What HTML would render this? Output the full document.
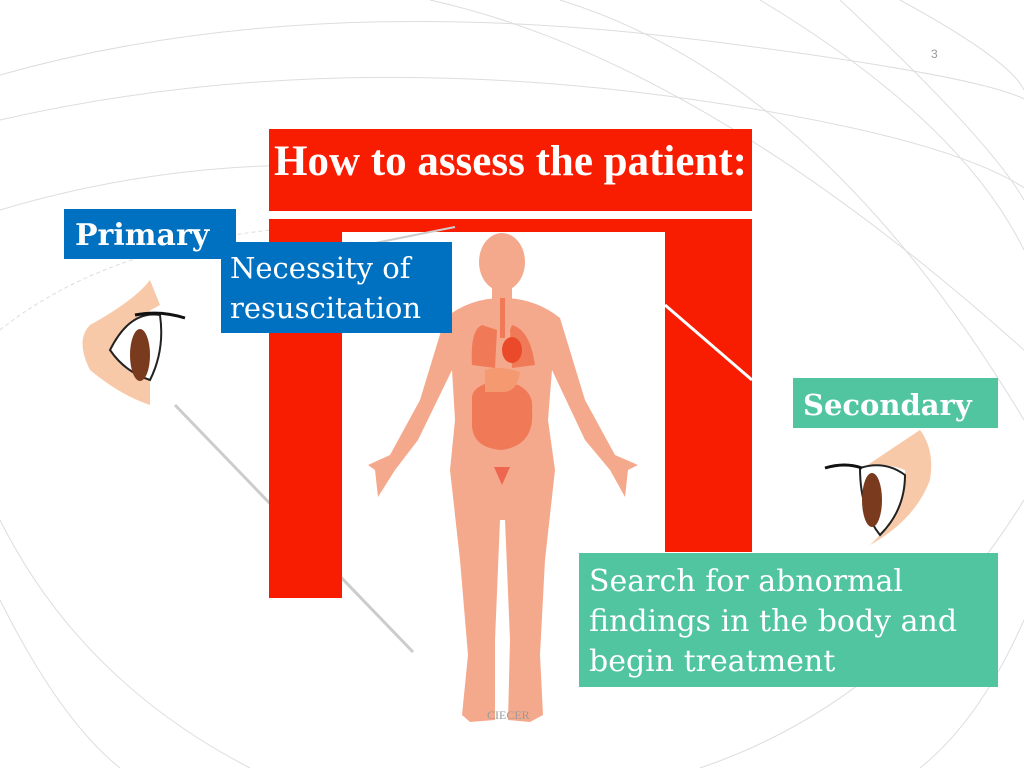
<!DOCTYPE html>
<html><head><meta charset="utf-8"><style>
body{margin:0;width:1024px;height:768px;overflow:hidden;background:#fff;position:relative;font-family:"DejaVu Serif","Liberation Serif",serif}
.b{position:absolute;color:#fff;white-space:nowrap}
</style></head><body>
<svg width="1024" height="768" style="position:absolute;left:0;top:0">
<g fill="none" stroke="#ddd" stroke-width="1">
<path d="M0 75 Q300 -10 700 40 T1024 120"/>
<path d="M0 120 Q350 40 760 110 T1024 300"/>
<path d="M0 210 Q200 150 420 170"/>
<path d="M0 330 Q100 250 270 230" stroke-dasharray="4 3"/>
<path d="M430 0 Q700 60 1024 350"/>
<path d="M560 0 Q820 80 1024 420"/>
<path d="M760 0 Q960 120 1024 250"/>
<path d="M840 0 Q990 140 1024 200"/>
<path d="M900 0 Q1010 60 1024 90"/>
<path d="M0 520 Q80 680 250 768"/>
<path d="M0 600 Q60 720 120 768"/>
<path d="M1024 500 Q900 700 700 768"/>
<path d="M1024 620 Q980 720 920 768"/>
</g>
<line x1="175" y1="405" x2="413" y2="652" stroke="#ccc" stroke-width="3"/>
<rect x="269" y="129" width="483" height="82" fill="#f81c00"/>
<path d="M269 219H752V552H665V232H342V598H269Z" fill="#f81c00"/>
<line x1="665" y1="305" x2="752" y2="380" stroke="#fff" stroke-width="3"/>
<line x1="340" y1="250" x2="455" y2="227" stroke="#ccc" stroke-width="2"/>
<g fill="#f5a98c">
<ellipse cx="502" cy="262" rx="23" ry="29"/>
<rect x="492" y="285" width="20" height="22"/>
<path d="M445 318 Q470 298 502 298 Q535 298 560 318 L585 400 L615 455 L638 465 L628 470 L625 497 L610 470 L585 440 L552 370 L548 420 L555 470 L545 560 L540 655 L543 715 L530 722 L508 720 L510 640 L505 520 L500 520 L495 640 L495 720 L470 722 L462 715 L468 655 L460 560 L450 470 L455 420 L452 370 L418 440 L395 470 L378 497 L375 470 L368 465 L390 455 L420 400 Z"/>
</g>
<g fill="#f07a58">
<path d="M482 325 Q470 330 472 365 L495 368 L497 330Z"/>
<path d="M512 325 Q530 330 535 365 L512 368 L510 330Z"/>
<path d="M472 400 Q470 385 500 380 Q535 385 532 410 Q535 445 502 450 Q470 448 472 420Z"/>
<path d="M485 370 Q500 365 520 372 Q518 390 505 392 L485 392Z" fill="#f59a70"/>
</g>
<ellipse cx="512" cy="350" rx="10" ry="13" fill="#ea4a2a"/>
<rect x="500" y="298" width="5" height="40" fill="#f07a58"/>
<path d="M494 467 L510 467 L502 485Z" fill="#ee6650"/>
<path d="M150 280 Q135 300 90 325 Q75 340 90 370 Q120 395 150 405 L150 380 Q125 370 110 350 Q130 320 160 305Z" fill="#f8c9a8"/>
<path d="M110 350 Q130 310 160 315 Q165 350 150 380 Q125 372 110 350Z" fill="#fff" stroke="#222" stroke-width="2"/>
<ellipse cx="140" cy="355" rx="10" ry="26" fill="#7a3a1e"/>
<path d="M135 315 Q160 310 185 318" stroke="#111" stroke-width="3" fill="none"/>
<path d="M920 430 Q935 450 930 480 Q915 520 870 545 L880 535 Q905 510 905 470 Q880 460 860 470 Z" fill="#f8c9a8"/>
<path d="M860 468 Q885 460 905 475 Q905 510 880 535 Q860 510 860 468Z" fill="#fff" stroke="#222" stroke-width="2"/>
<ellipse cx="872" cy="500" rx="10" ry="27" fill="#7a3a1e"/>
<path d="M825 468 Q845 462 862 468" stroke="#111" stroke-width="3" fill="none"/>
</svg>
<div class="b" style="left:269px;top:129px;width:483px;height:82px;font-weight:bold;font-size:43px;line-height:66px;text-indent:5px;font-family:'Liberation Serif',serif">How to assess the patient:</div>
<div class="b" style="left:64px;top:209px;width:172px;height:50px;background:#0070c0;font-weight:bold;font-size:30px;line-height:54px;text-indent:11px">Primary</div>
<div class="b" style="left:221px;top:242px;width:231px;height:91px;background:#0070c0;font-size:29px;line-height:40px;padding:6px 0 0 9px;box-sizing:border-box">Necessity of<br>resuscitation</div>
<div class="b" style="left:793px;top:378px;width:205px;height:50px;background:#50c5a0;font-weight:bold;font-size:29px;line-height:54px;text-indent:10px">Secondary</div>
<div class="b" style="left:579px;top:553px;width:419px;height:134px;background:#50c5a0;font-size:30px;line-height:40px;padding:9px 0 0 10px;box-sizing:border-box">Search for abnormal<br>findings in the body and<br>begin treatment</div>
<div style="position:absolute;left:487px;top:708px;font-size:12px;color:#999;font-family:'Liberation Serif',serif">CIECER</div>
<div style="position:absolute;left:931px;top:47px;font-size:12px;color:#999;font-family:'Liberation Sans',sans-serif">3</div>
</body></html>
